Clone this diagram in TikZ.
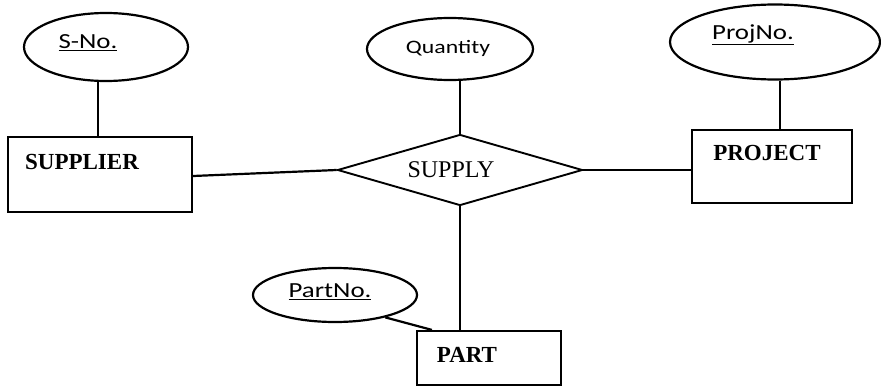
\documentclass[tikz,border=0pt]{standalone}
\usepackage{fontspec}
\setmainfont{Liberation Serif}
\newfontfamily\attrfont[FakeStretch=1.25]{Carlito}
\usetikzlibrary{shapes.geometric}
\begin{document}
\begin{tikzpicture}[x=1pt,y=-1pt,
  line width=2.2pt,
  entity/.style={draw,rectangle,inner sep=0pt},
  attrib/.style={draw,ellipse,inner sep=0pt},
  relation/.style={draw,diamond,inner sep=0pt,line width=1.9pt},
  etext/.style={font=\fontsize{23}{25}\selectfont\bfseries,inner sep=0pt},
  atext/.style={font=\attrfont\fontsize{21.5}{23}\selectfont,inner sep=0pt},
  rtext/.style={font=\fontsize{24}{26}\selectfont,inner sep=0pt}]
\useasboundingbox (0,0) rectangle (881,388);

% entities
\node[entity,minimum width=184pt,minimum height=75pt] (supplier) at (100,174.5) {};
\node[etext] (supplierT) at (82,162) {SUPPLIER};
\node[entity,minimum width=160pt,minimum height=73pt] (project) at (772,166.5) {};
\node[etext] (projectT) at (767,153) {PROJECT};
\node[entity,minimum width=144pt,minimum height=54pt] (part) at (489,358) {};
\node[etext] (partT) at (467,355) {PART};

% relationship
\node[relation,minimum width=245pt,minimum height=71pt,aspect=3.45] (supply) at (460,170) {};
\node[rtext] (supplyT) at (451,170) {SUPPLY};

% attributes
\node[attrib,minimum width=164pt,minimum height=68pt] (sno) at (106,47) {};
\node[atext] (snoT) at (88,43) {\underline{S-No.}};
\node[attrib,minimum width=166pt,minimum height=62pt] (qty) at (450,49) {};
\node[atext,font=\attrfont\fontsize{19}{21}\selectfont] (qtyT) at (448,48) {Quantity};
\node[attrib,minimum width=210pt,minimum height=75pt] (projno) at (775,42) {};
\node[atext] (projnoT) at (753,35) {\underline{ProjNo.}};
\node[attrib,minimum width=164pt,minimum height=54pt] (partno) at (335,295) {};
\node[atext] (partnoT) at (330,292) {\underline{PartNo.}};

% attribute links
\draw ([xshift=-8pt]sno.south) -- ([xshift=-8pt]sno.south |- supplier.north);
\draw ([xshift=10pt]qty.south) -- (supply.north);
\draw ([xshift=5pt]projno.south) -- ([xshift=5pt]projno.south |- project.north);
\draw (partno.-24) -- ([xshift=16pt]part.north west);

% relationship links
\draw ([yshift=-1.5pt]supplier.east) -- (supply.west);
\draw (supply.east) -- (supply.east -| project.west);
\draw (supply.south) -- (supply.south |- part.north);
\end{tikzpicture}
\end{document}
